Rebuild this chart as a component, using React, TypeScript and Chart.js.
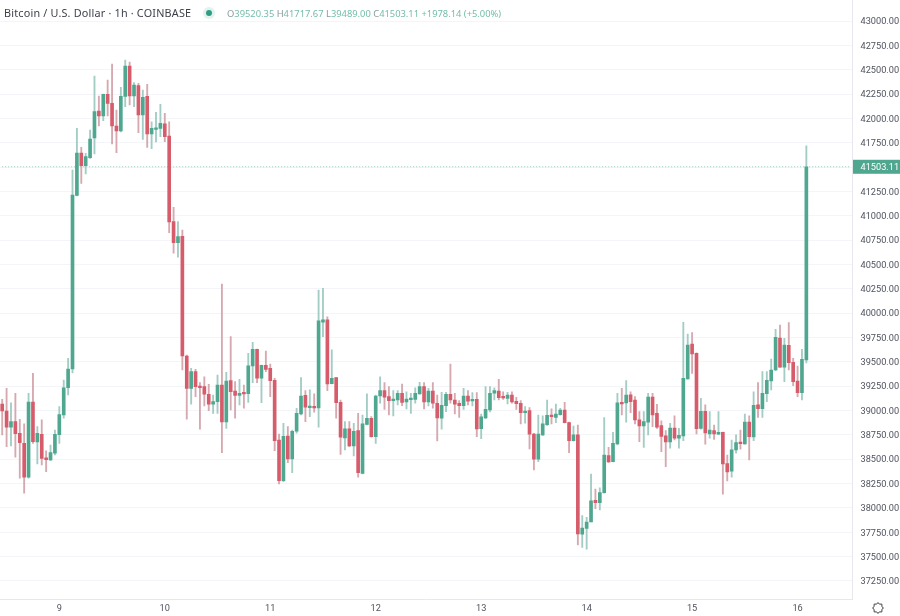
import React, { useEffect, useRef } from "react";
import { Chart, registerables } from "chart.js";

Chart.register(...registerables);

const dayLabels = ["9", "10", "11", "12", "13", "14", "15", "16"];
const firstHour = -13;
const slotCount = 194;

const opens = [39067,38995,38828,38885,38766,38663,38314,39087,38677,38756,38515,38492,38561,
38752,38954,39234,39426,41210,41645,41514,41596,41799,42076,42025,42248,42155,41922,41871,42227,42538,42230,42336,42035,42227,41840,41888,41898,
41943,41819,40939,40723,40789,39560,39228,39399,39252,39245,39167,39064,39091,39262,38882,39306,39200,39156,39177,39173,39457,39629,39331,39464,39434,
39310,38697,38279,38738,38502,38787,38964,39156,39029,39043,39026,39906,39930,39275,39337,39084,38718,38813,38636,38793,38355,38858,38920,38731,
39149,39204,39142,39101,39108,39177,39087,39111,39115,39170,39245,39087,39200,39074,38920,39049,39167,39108,39074,39049,39149,39098,39115,38813,
38923,39005,39177,39200,39139,39125,39159,39095,39074,38978,38998,38759,38499,38749,38854,38954,38930,38957,39005,38875,38690,38749,37729,37790,
37855,38078,38053,38156,38536,38474,38656,39084,39077,39162,39108,38903,38841,38879,39139,38971,38844,38741,38677,38820,38715,38738,39324,39683,39588,
38817,38992,38759,38793,38756,38776,38454,38376,38595,38674,38656,38882,38728,39057,39019,39173,39303,39416,39745,39444,39670,39495,
39303,39183,39520.35];
const highs = [39115,39228,39080,39177,38910,38862,39177,39382,38834,38903,38587,38646,38800,
39039,39313,39536,41470,41898,41703,41641,41881,42435,42230,42251,42394,42559,42086,42319,42600,42579,42367,42360,42292,42350,41966,42063,42145,
42052,41966,41087,40939,40854,39570,39434,39423,39286,39347,39269,39159,39365,40299,39392,39758,39296,39321,39262,39588,39701,39632,39467,39611,39478,
39331,38759,38869,38834,38800,39023,39337,39204,39211,39170,40238,40255,39963,39622,39337,39108,38885,38885,38869,38971,38954,39170,38937,39159,
39347,39286,39245,39204,39204,39272,39193,39177,39234,39290,39286,39228,39286,39159,39187,39187,39478,39177,39101,39228,39204,39183,39183,38964,
39245,39245,39234,39321,39193,39187,39193,39136,39101,39039,39029,38766,38954,38944,39108,39016,39067,39023,39084,38882,38841,38851,37920,37903,
38348,38194,38207,38926,38622,38776,39177,39228,39306,39193,39142,38988,38988,39177,39177,39064,38895,38793,38869,38944,38817,39906,39786,39799,39591,
39125,39057,38988,38851,38988,38779,38543,38697,38749,38800,38964,38944,39193,39286,39399,39399,39529,39834,39878,39742,39902,39536,
39457,39629,41717.67];
const lows = [38749,38628,38636,38520,38304,38150,38304,38663,38451,38440,38372,38485,38543,
38663,38920,39159,39385,41203,41333,41429,41590,41634,41922,41976,42025,41737,41648,41860,42120,42138,42120,41853,41785,41703,41689,41758,41812,
41761,40826,40615,40574,39416,38910,39064,39142,38807,39046,38998,38971,38971,38567,38817,39005,38920,39057,39023,39084,39286,39286,39080,39399,39142,
38587,38245,38269,38464,38361,38766,38954,38885,38936,38982,38828,39758,39204,39272,38920,38550,38595,38628,38533,38314,38348,38851,38725,38663,
39074,39012,38954,38944,39057,39049,39016,38971,39074,39167,39016,39046,39023,38687,38807,38988,39074,38964,38930,39012,39057,39046,38731,38711,
38916,38985,39108,39108,39115,39067,39074,39012,38862,38869,38605,38389,38474,38741,38848,38862,38875,38951,38872,38567,38684,37619,37595,37575,
37855,37992,37978,38150,38468,38471,38646,38954,38879,38978,38862,38680,38622,38749,38834,38817,38577,38423,38612,38697,38612,38690,39321,39382,38759,
38807,38653,38715,38704,38752,38140,38276,38314,38561,38602,38653,38492,38690,38930,38930,39091,39211,39409,39442,39296,39416,39255,
39142,39108,39489];
const closes = [38995,38828,38885,38762,38670,38314,39087,38680,38766,38509,38495,38567,38756,
38957,39234,39426,41213,41645,41514,41607,41788,42069,42025,42248,42155,41922,41871,42227,42538,42230,42343,42035,42217,41840,41898,41901,41950,
41812,40936,40723,40785,39560,39228,39399,39245,39234,39167,39064,39091,39262,38882,39303,39193,39156,39177,39170,39460,39629,39331,39464,39423,39306,
38690,38279,38735,38502,38787,38971,39149,39033,39046,39026,39922,39930,39272,39331,39080,38725,38813,38636,38787,38361,38862,38920,38731,39149,
39204,39136,39101,39108,39177,39084,39118,39118,39177,39245,39087,39200,39074,38923,39054,39167,39108,39064,39049,39149,39095,39115,38810,38936,
39012,39177,39204,39132,39129,39159,39087,39070,38978,38995,38756,38499,38759,38862,38951,38936,38964,39005,38875,38690,38749,37732,37793,37855,
38071,38053,38156,38543,38471,38663,39080,39067,39159,39091,38903,38841,38885,39139,38954,38828,38735,38677,38820,38715,38745,39331,39673,39580,38813,
38992,38769,38800,38759,38776,38451,38369,38595,38670,38659,38882,38731,39054,39019,39177,39310,39416,39752,39444,39673,39491,39296,
39183,39526,41503.11];

const axisTicks = { step: 250, min: 37064, max: 43216 };
const lastClose = closes[closes.length - 1];

const UP = "#4fa78f";
const DOWN = "#d65c6b";
const UP_WICK = "#a3cdc4";
const DOWN_WICK = "#d6a8af";
const GRID = "#f4f5f8";
const BORDER = "#e6e8ee";

const hourSlots = Array.from({ length: slotCount }, (_, i) => String(firstHour + i));
const isUp = (i: number) => closes[i] >= opens[i];

const dayAt = (index: number) => {
  const h = index + firstHour;
  if (h < 0 || h % 24 !== 0) return null;
  return dayLabels[h / 24] ?? null;
};

const priceTagPlugin = {
  id: "priceTag",
  afterDraw(chart: any) {
    const { ctx, scales, chartArea } = chart;
    const y = scales.y.getPixelForValue(lastClose);
    ctx.save();
    ctx.fillStyle = "#4fa78f";
    ctx.fillRect(chartArea.right + 0.5, y - 7, 47, 14);
    ctx.fillStyle = "#ffffff";
    ctx.font = "9.2px Roboto";
    ctx.textBaseline = "middle";
    ctx.textAlign = "left";
    ctx.fillText(lastClose.toFixed(2), chartArea.right + 8, y + 0.5);
    ctx.restore();
  },
};

const T = "'Noto Sans', sans-serif";

export default function App() {
  const ref = useRef<HTMLCanvasElement>(null);

  useEffect(() => {
    document.body.style.margin = "0";
    document.body.style.background = "#fff";
    const chart = new Chart(ref.current!, {
      type: "bar",
      plugins: [priceTagPlugin],
      data: {
        labels: hourSlots,
        datasets: [
          {
            type: "line",
            data: hourSlots.map(() => lastClose),
            borderColor: "#8ccab8",
            borderWidth: 1,
            borderDash: [1, 2],
            pointRadius: 0,
            order: 3,
          },
          {
            data: lows.map((l, i) => [l, highs[i]]),
            backgroundColor: lows.map((_, i) => (isUp(i) ? UP_WICK : DOWN_WICK)),
            barThickness: 1.2,
            grouped: false,
            order: 2,
          },
          {
            data: opens.map((o, i) => [o, closes[i]]),
            backgroundColor: opens.map((_, i) => (isUp(i) ? UP : DOWN)),
            barThickness: 3,
            minBarLength: 1.5,
            grouped: false,
            order: 1,
          },
        ] as any,
      },
      options: {
        animation: false,
        responsive: false,
        devicePixelRatio: 1,
        layout: { padding: 0 },
        plugins: { legend: { display: false }, tooltip: { enabled: false } },
        scales: {
          x: {
            type: "category",
            offset: true,
            border: { color: BORDER },
            grid: {
              offset: false,
              drawTicks: false,
              color: (c: any) => (dayAt(c.index) ? GRID : "rgba(0,0,0,0)"),
            },
            ticks: {
              autoSkip: false,
              maxRotation: 0,
              padding: 4,
              color: "#50535e",
              font: { family: "Roboto", size: 9.2 },
              callback: (_v: any, i: number) => dayAt(i),
            },
            afterFit: (s: any) => {
              s.height = 17;
              s.paddingLeft = 0;
              s.paddingRight = 0;
            },
          },
          y: {
            position: "right",
            min: axisTicks.min,
            max: axisTicks.max,
            border: { color: BORDER },
            grid: { color: GRID, drawTicks: false },
            ticks: {
              stepSize: axisTicks.step,
              includeBounds: false,
              padding: 8,
              labelOffset: 1,
              color: "#50535e",
              font: { family: "Roboto", size: 9.2 },
              callback: (v: any) => Number(v).toFixed(2),
            },
            afterFit: (s: any) => {
              s.width = 47.5;
              s.paddingTop = 0;
              s.paddingBottom = 0;
            },
          },
        },
      } as any,
    });
    return () => chart.destroy();
  }, []);

  return (
    <div style={{ position: "relative", width: 900, height: 616, overflow: "hidden" }}>
      <canvas ref={ref} width={900} height={616} style={{ display: "block" }} />
      <div
        style={{
          position: "absolute",
          left: 4,
          top: 4,
          whiteSpace: "nowrap",
          fontFamily: T,
          fontSize: 10.8,
          lineHeight: "17px",
          color: "#3c3f4a",
          letterSpacing: 0.2,
        }}
      >
        Bitcoin / U.S. Dollar · 1h · COINBASE
      </div>
      <div
        style={{
          position: "absolute",
          left: 203,
          top: 7,
          width: 12,
          height: 12,
          borderRadius: 6,
          background: "#e3f2ee",
        }}
      >
        <div
          style={{
            position: "absolute",
            left: 3,
            top: 3,
            width: 6,
            height: 6,
            borderRadius: 3,
            background: "#2f9d83",
          }}
        />
      </div>
      <div
        style={{
          position: "absolute",
          left: 227,
          top: 5,
          whiteSpace: "nowrap",
          fontFamily: T,
          fontSize: 9.35,
          lineHeight: "17px",
          color: "#74bda9",
        }}
      >
        <span style={{ color: "#8a9a9c" }}>O</span>39520.35 <span style={{ color: "#8a9a9c" }}>H</span>41717.67{" "}
        <span style={{ color: "#8a9a9c" }}>L</span>39489.00 <span style={{ color: "#8a9a9c" }}>C</span>41503.11 +1978.14 (+5.00%)
      </div>
      <svg
        style={{ position: "absolute", left: 871, top: 601 }}
        width={14}
        height={14}
        viewBox="0 0 14 14"
        fill="none"
        stroke="#444"
        strokeWidth={1}
      >
        <path d="M7 1.5 L8.3 3.1 L10.9 3.1 L10.9 5.7 L12.5 7 L10.9 8.3 L10.9 10.9 L8.3 10.9 L7 12.5 L5.7 10.9 L3.1 10.9 L3.1 8.3 L1.5 7 L3.1 5.7 L3.1 3.1 L5.7 3.1 Z" />
      </svg>
    </div>
  );
}
